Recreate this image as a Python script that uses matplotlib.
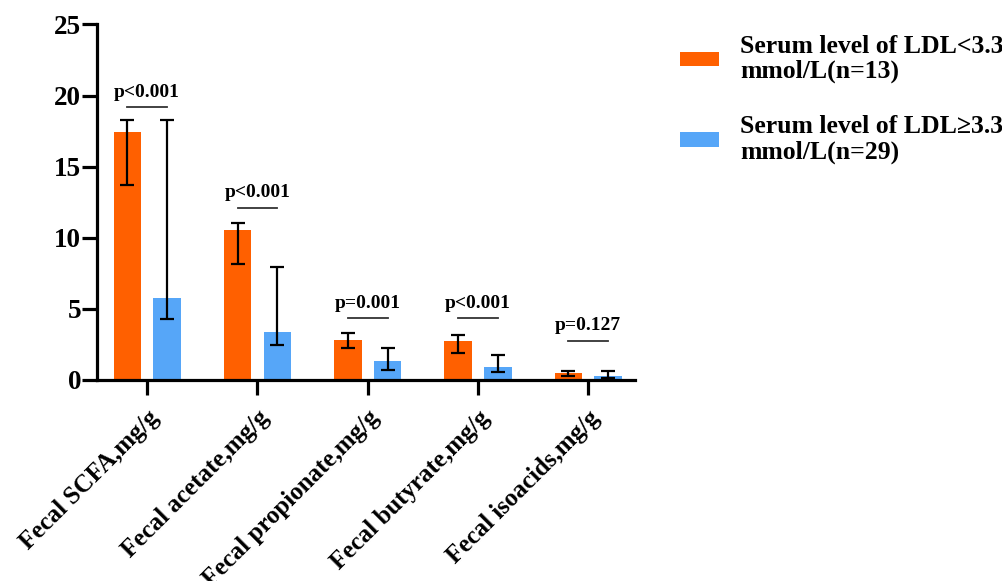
import numpy as np
import matplotlib
matplotlib.use("Agg")
import matplotlib.pyplot as plt

plt.rcParams['font.family'] = ['Liberation Serif', 'DejaVu Serif']
plt.rcParams['font.weight'] = 'bold'

categories = ['Fecal SCFA,mg/g', 'Fecal acetate,mg/g', 'Fecal propionate,mg/g',
              'Fecal butyrate,mg/g', 'Fecal isoacids,mg/g']
low_mean = [17.44, 10.57, 2.84, 2.74, 0.49]
low_upper = [18.26, 11.06, 3.28, 3.16, 0.63]
low_lower = [13.69, 8.16, 2.25, 1.87, 0.28]
high_mean = [5.74, 3.35, 1.36, 0.89, 0.26]
high_upper = [18.26, 7.97, 2.27, 1.78, 0.61]
high_lower = [4.29, 2.48, 0.70, 0.56, 0.12]
p_labels = ['p<0.001', 'p<0.001', 'p=0.001', 'p<0.001', 'p=0.127']
p_line_y = [19.17, 12.1, 4.34, 4.34, 2.77]
labels = ['Serum level of LDL<3.3\nmmol/L(n=13)', 'Serum level of LDL\u22653.3\nmmol/L(n=29)']

c_low = '#FF6000'
c_high = '#56A6F8'

x = np.arange(len(categories))
w = 0.25
off = 0.18

fig = plt.figure(figsize=(10.03, 5.81), dpi=100)
ax = fig.add_axes([0.0967, 0.346, 0.536, 0.612])

lo_err = [np.array(low_mean) - np.array(low_lower), np.array(low_upper) - np.array(low_mean)]
hi_err = [np.array(high_mean) - np.array(high_lower), np.array(high_upper) - np.array(high_mean)]

b1 = ax.bar(x - off, low_mean, w, color=c_low, label=labels[0],
            yerr=lo_err, capsize=5, error_kw=dict(elinewidth=1.6, capthick=1.6, ecolor='black'))
b2 = ax.bar(x + off, high_mean, w, color=c_high, label=labels[1],
            yerr=hi_err, capsize=5, error_kw=dict(elinewidth=1.6, capthick=1.6, ecolor='black'))

for i in range(len(categories)):
    ax.plot([x[i] - off, x[i] + off], [p_line_y[i], p_line_y[i]], color='#333333', lw=1.3)
    ax.text(x[i], p_line_y[i] + 0.45, p_labels[i], ha='center', va='bottom',
            fontsize=14, fontweight='bold')

ax.set_xlim(-0.455, 4.42)
ax.set_ylim(0, 25)
ax.set_yticks([0, 5, 10, 15, 20, 25])
ax.set_xticks(x)
ax.set_xticklabels(categories, rotation=45, ha='right', rotation_mode='anchor',
                   fontsize=18, fontweight='bold')
for lab in ax.get_yticklabels():
    lab.set_fontsize(19.5)
    lab.set_fontweight('bold')

ax.spines['top'].set_visible(False)
ax.spines['right'].set_visible(False)
ax.spines['left'].set_linewidth(2.3)
ax.spines['bottom'].set_linewidth(2.3)
ax.tick_params(axis='both', width=2.3, length=11, direction='out')
ax.tick_params(axis='y', pad=0.5)
ax.tick_params(axis='x', pad=8)

leg = fig.legend(handles=[b1, b2], labels=labels, loc='upper left',
                 bbox_to_anchor=(0.678, 0.94), frameon=False,
                 handlelength=1.5, handleheight=0.5, labelspacing=1.26, handletextpad=0.85,
                 borderpad=0, borderaxespad=0,
                 prop=dict(weight='bold', size=18.5))
for t in leg.get_texts():
    t.set_linespacing(1.1)

fig.savefig('out.png', dpi=100)
